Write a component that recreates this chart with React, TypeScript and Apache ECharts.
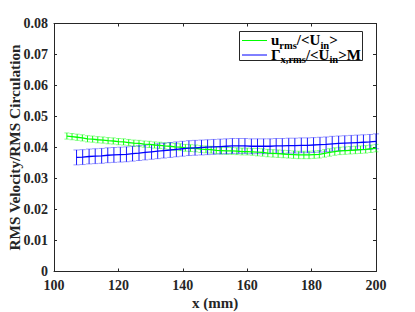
import React, { useEffect, useRef } from "react";
import * as echarts from "echarts";

const xTicks = [100, 120, 140, 160, 180, 200];

const greenX = [104.0, 105.6, 107.2, 108.8, 110.4, 112.0, 113.6, 115.2, 116.8, 118.4, 120.0, 121.6, 123.2, 124.8, 126.4, 128.0, 129.6, 131.2, 132.8, 134.4, 136.0, 137.6, 139.2, 140.8, 142.4, 144.0, 145.6, 147.2, 148.8, 150.4, 152.0, 153.6, 155.2, 156.8, 158.4, 160.0, 161.6, 163.2, 164.8, 166.4, 168.0, 169.6, 171.2, 172.8, 174.4, 176.0, 177.6, 179.2, 180.8, 182.4, 184.0, 185.6, 187.2, 188.8, 190.4, 192.0, 193.6, 195.2, 196.8, 198.4, 200.0];
const greenY = [0.0437, 0.0435, 0.0433, 0.0431, 0.0428, 0.0427, 0.0425, 0.0424, 0.0422, 0.0421, 0.0419, 0.0418, 0.0416, 0.0414, 0.0413, 0.0411, 0.0410, 0.0408, 0.0407, 0.0405, 0.0404, 0.0402, 0.0401, 0.0399, 0.0398, 0.0397, 0.0395, 0.0394, 0.0393, 0.0391, 0.0390, 0.0389, 0.0389, 0.0388, 0.0387, 0.0387, 0.0386, 0.0385, 0.0384, 0.0382, 0.0381, 0.0380, 0.0379, 0.0378, 0.0377, 0.0376, 0.0376, 0.0376, 0.0377, 0.0378, 0.0381, 0.0384, 0.0387, 0.0389, 0.0390, 0.0391, 0.0392, 0.0393, 0.0394, 0.0396, 0.0398];
const greenErr = [0.0010, 0.0010, 0.0010, 0.0010, 0.0010, 0.0010, 0.0010, 0.0010, 0.0010, 0.0010, 0.0010, 0.0010, 0.0010, 0.0010, 0.0010, 0.0010, 0.0010, 0.0010, 0.0010, 0.0010, 0.0011, 0.0011, 0.0011, 0.0011, 0.0011, 0.0011, 0.0011, 0.0011, 0.0011, 0.0011, 0.0011, 0.0011, 0.0011, 0.0011, 0.0011, 0.0011, 0.0011, 0.0012, 0.0012, 0.0012, 0.0012, 0.0012, 0.0012, 0.0012, 0.0012, 0.0012, 0.0012, 0.0012, 0.0012, 0.0012, 0.0012, 0.0012, 0.0012, 0.0012, 0.0012, 0.0012, 0.0012, 0.0012, 0.0012, 0.0012, 0.0012];

const blueX = [107.0, 108.9, 110.9, 112.8, 114.8, 116.7, 118.6, 120.6, 122.5, 124.4, 126.4, 128.3, 130.3, 132.2, 134.1, 136.1, 138.0, 139.9, 141.9, 143.8, 145.8, 147.7, 149.6, 151.6, 153.5, 155.4, 157.4, 159.3, 161.3, 163.2, 165.1, 167.1, 169.0, 170.9, 172.9, 174.8, 176.8, 178.7, 180.6, 182.6, 184.5, 186.4, 188.4, 190.3, 192.3, 194.2, 196.1, 198.1, 200.0];
const blueY = [0.0368, 0.0369, 0.0371, 0.0372, 0.0373, 0.0375, 0.0376, 0.0377, 0.0378, 0.0380, 0.0382, 0.0384, 0.0386, 0.0388, 0.0390, 0.0392, 0.0394, 0.0396, 0.0398, 0.0399, 0.0400, 0.0401, 0.0402, 0.0403, 0.0404, 0.0405, 0.0405, 0.0405, 0.0404, 0.0404, 0.0404, 0.0404, 0.0405, 0.0405, 0.0406, 0.0406, 0.0407, 0.0407, 0.0408, 0.0409, 0.0410, 0.0412, 0.0413, 0.0414, 0.0415, 0.0416, 0.0417, 0.0418, 0.0420];
const blueErr = [0.0024, 0.0024, 0.0024, 0.0024, 0.0024, 0.0024, 0.0024, 0.0024, 0.0024, 0.0024, 0.0024, 0.0024, 0.0024, 0.0024, 0.0024, 0.0024, 0.0024, 0.0024, 0.0024, 0.0024, 0.0024, 0.0024, 0.0024, 0.0024, 0.0024, 0.0024, 0.0024, 0.0024, 0.0024, 0.0024, 0.0024, 0.0024, 0.0024, 0.0024, 0.0024, 0.0024, 0.0024, 0.0024, 0.0024, 0.0024, 0.0024, 0.0024, 0.0024, 0.0024, 0.0024, 0.0024, 0.0024, 0.0024, 0.0024];

const FONT = "'Liberation Serif', 'DejaVu Serif', serif";
const AXIS = "#262626";
const GREEN = "#00ff00";
const BLUE = "#0000ff";

function errSeries(xs: number[], ys: number[], es: number[], color: string, capColor: string, capW: number) {
  return {
    type: "custom",
    xAxisIndex: 0,
    yAxisIndex: 0,
    encode: { x: 0, y: 1 },
    data: xs.map((x, i) => [x, ys[i], es[i]]),
    renderItem: (params: any, api: any) => {
      const x = api.value(0);
      const y = api.value(1);
      const e = api.value(2);
      const t = api.coord([x, y + e]);
      const b = api.coord([x, y - e]);
      const hw = capW / 2;
      return {
        type: "group",
        children: [
          { type: "line", shape: { x1: t[0], y1: t[1], x2: b[0], y2: b[1] }, style: { stroke: color, lineWidth: 0.9 } },
          { type: "line", shape: { x1: t[0] - hw, y1: t[1], x2: t[0] + hw, y2: t[1] }, style: { stroke: capColor, lineWidth: 1 } },
          { type: "line", shape: { x1: b[0] - hw, y1: b[1], x2: b[0] + hw, y2: b[1] }, style: { stroke: capColor, lineWidth: 1 } },
        ],
      };
    },
  };
}

function lineSeries(xs: number[], ys: number[], color: string) {
  return {
    type: "line",
    data: xs.map((x, i) => [x, ys[i]]),
    showSymbol: false,
    symbol: "none",
    lineStyle: { color, width: 1.3 },
  };
}

export default function App() {
  const ref = useRef<HTMLDivElement>(null);
  useEffect(() => {
    if (!ref.current) return;
    document.body.style.margin = "0";
    const chart = echarts.init(ref.current, null, { renderer: "svg" });
    const labelStyle = { fontFamily: FONT, fontWeight: "bold" as const, fontSize: 14, color: "#262626" };
    const subA = { fontFamily: FONT, fontWeight: "bold" as const, fontSize: 15, color: "#000", lineHeight: 13 };
    const subS = { fontFamily: FONT, fontWeight: "bold" as const, fontSize: 10.5, color: "#000", lineHeight: 3, padding: [10, 0, 0, 0] };
    chart.setOption({
      animation: false,
      backgroundColor: "#fff",
      grid: { left: 54, right: 39, top: 23.5, bottom: 40.5, containLabel: false, outerBoundsMode: "none" },
      xAxis: [
        {
          type: "value",
          min: xTicks[0],
          max: xTicks[xTicks.length - 1],
          interval: 20,
          name: "x (mm)",
          nameLocation: "middle",
          nameGap: 24,
          nameMoveOverlap: false,
          nameTextStyle: { ...labelStyle, fontSize: 15 },
          axisLine: { show: true, onZero: false, lineStyle: { color: AXIS, width: 1 } },
          axisTick: { show: true, inside: true, length: 3, lineStyle: { color: AXIS } },
          axisLabel: { ...labelStyle, margin: 7 },
          splitLine: { show: false },
        },
        {
          type: "value",
          position: "top",
          min: xTicks[0],
          max: xTicks[xTicks.length - 1],
          interval: 20,
          axisLine: { show: true, onZero: false, lineStyle: { color: AXIS, width: 1 } },
          axisTick: { show: true, inside: true, length: 3, lineStyle: { color: AXIS } },
          axisLabel: { show: false },
          splitLine: { show: false },
        },
      ],
      yAxis: [
        {
          type: "value",
          min: 0,
          max: 0.08,
          interval: 0.01,
          name: "RMS Velocity/RMS Circulation",
          nameLocation: "middle",
          nameGap: 32,
          nameMoveOverlap: false,
          nameTextStyle: { ...labelStyle, fontSize: 15.3 },
          axisLine: { show: true, onZero: false, lineStyle: { color: AXIS, width: 1 } },
          axisTick: { show: true, inside: true, length: 3, lineStyle: { color: AXIS } },
          axisLabel: { ...labelStyle, margin: 6, formatter: (v: number) => (v === 0 ? "0" : v.toFixed(2)) },
          splitLine: { show: false },
        },
        {
          type: "value",
          position: "right",
          min: 0,
          max: 0.08,
          interval: 0.01,
          axisLine: { show: true, onZero: false, lineStyle: { color: AXIS, width: 1 } },
          axisTick: { show: true, inside: true, length: 3, lineStyle: { color: AXIS } },
          axisLabel: { show: false },
          splitLine: { show: false },
        },
      ],
      series: [
        errSeries(greenX, greenY, greenErr, GREEN, "rgba(0,255,0,0.45)", 5),
        lineSeries(greenX, greenY, GREEN),
        errSeries(blueX, blueY, blueErr, BLUE, "rgba(0,0,255,0.4)", 6.2),
        lineSeries(blueX, blueY, BLUE),
      ],
      graphic: [
        {
          type: "rect",
          shape: { x: 239.5, y: 31.5, width: 123, height: 29 },
          style: { fill: "#fff", stroke: AXIS, lineWidth: 1 },
          z: 100,
        },
        { type: "line", shape: { x1: 242, y1: 40.5, x2: 267, y2: 40.5 }, style: { stroke: GREEN, lineWidth: 1 }, z: 101 },
        { type: "line", shape: { x1: 242, y1: 55, x2: 267, y2: 55 }, style: { stroke: BLUE, lineWidth: 1 }, z: 101 },
        {
          type: "text",
          x: 271,
          y: 40.2,
          z: 101,
          style: {
            text: "{a|u}{s|rms}{a|/<U}{s|in}{a|>}",
            verticalAlign: "middle",
            align: "left",
            rich: { a: subA, s: subS },
          },
        },
        {
          type: "text",
          x: 271,
          y: 54.5,
          z: 101,
          style: {
            text: "{a|Γ}{s|x,rms}{a|/<U}{s|in}{a|>M}",
            verticalAlign: "middle",
            align: "left",
            rich: { a: subA, s: subS },
          },
        },
      ],
    });
    return () => chart.dispose();
  }, []);
  return <div ref={ref} style={{ width: 415, height: 312 }} />;
}
